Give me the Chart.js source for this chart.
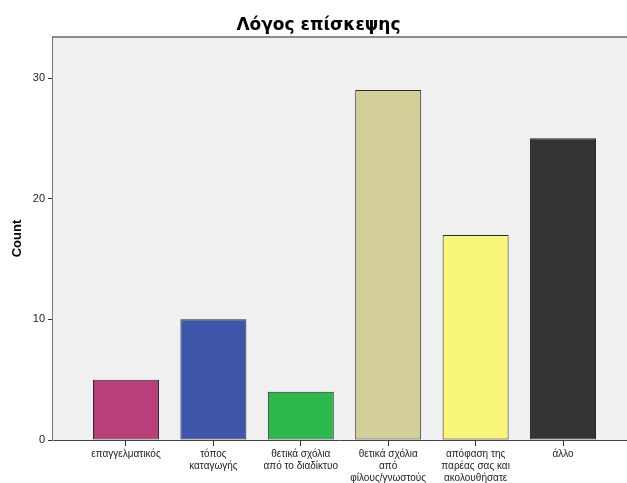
<!DOCTYPE html>
<html>
<head>
<meta charset="utf-8">
<script src="https://cdn.jsdelivr.net/npm/chart.js@4/dist/chart.umd.min.js"></script>
<style>
  html, body { margin: 0; padding: 0; background: #ffffff; }
  #wrap { width: 627px; height: 483px; }
</style>
</head>
<body>
<div id="wrap"><canvas id="c" width="627" height="483"></canvas></div>
<script>
// Visit reasons (categories), multi-line tick labels
const categories = [
  ['επαγγελματικός'],
  ['τόπος', 'καταγωγής'],
  ['θετικά σχόλια', 'από το διαδίκτυο'],
  ['θετικά σχόλια', 'από', 'φίλους/γνωστούς'],
  ['απόφαση της', 'παρέας σας και', 'ακολουθήσατε'],
  ['άλλο']
];
const counts = [5, 10, 4, 29, 17, 25];
const barColors = ['#b93f7b', '#3d56a9', '#2db84b', '#d3cf98', '#faf67a', '#333333'];
const yTicks = [0, 10, 20, 30];
const chartTitle = 'Λόγος επίσκεψης';
const yTitle = 'Count';

const FONT = '"Liberation Sans", Arial, sans-serif';

// Plot background and top frame line
const plotFrame = {
  id: 'plotFrame',
  beforeDatasetsDraw(chart) {
    const { ctx, chartArea: a } = chart;
    ctx.save();
    ctx.fillStyle = '#f0f0f0';
    ctx.fillRect(a.left, a.top, a.right - a.left, a.bottom - a.top);
    ctx.strokeStyle = '#8c8c8c';
    ctx.lineWidth = 2;
    ctx.beginPath();
    ctx.moveTo(a.left, a.top);
    ctx.lineTo(a.right, a.top);
    ctx.stroke();
    ctx.restore();
  }
};

// Chart title
const plotTitle = {
  id: 'plotTitle',
  afterDraw(chart) {
    const { ctx } = chart;
    ctx.save();
    ctx.font = 'bold 17px "DejaVu Sans", sans-serif';
    ctx.fillStyle = '#000';
    ctx.textAlign = 'center';
    ctx.textBaseline = 'alphabetic';
    ctx.fillText(chartTitle, chart.width / 2 + 5, 30);
    ctx.restore();
  }
};

new Chart(document.getElementById('c'), {
  type: 'bar',
  data: {
    datasets: [{
      data: counts.map((v, i) => ({ x: i, y: v })),
      backgroundColor: barColors,
      borderColor: '#2a2a2a',
      borderWidth: 1,
      borderSkipped: false,
      categoryPercentage: 1,
      barPercentage: 0.755
    }]
  },
  options: {
    responsive: false,
    animation: false,
    layout: { padding: { top: 37, right: 0, left: 0, bottom: 0 } },
    plugins: { legend: { display: false }, tooltip: { enabled: false }, title: { display: false } },
    scales: {
      x: {
        type: 'linear',
        offset: false,
        min: -0.835,
        max: 5.732,
        afterBuildTicks: axis => { axis.ticks = categories.map((c, i) => ({ value: i })); },
        afterFit: axis => { axis.height = 43; },
        grid: { offset: false, drawOnChartArea: false, drawTicks: true, tickLength: 6, color: '#333', lineWidth: 1 },
        border: { display: true, color: '#444', width: 1 },
        ticks: {
          autoSkip: false,
          maxRotation: 0,
          padding: 2,
          color: '#222',
          font: { family: FONT, size: 10, lineHeight: 1.2 },
          callback: v => categories[v]
        }
      },
      y: {
        min: 0,
        max: 33.4,
        afterBuildTicks: axis => { axis.ticks = yTicks.map(v => ({ value: v })); },
        afterFit: axis => { axis.width = 53; },
        grid: { drawOnChartArea: false, drawTicks: true, tickLength: 5, color: '#333', lineWidth: 1 },
        border: { display: true, color: '#7a7a7a', width: 2 },
        ticks: {
          padding: 3,
          color: '#222',
          font: { family: FONT, size: 11 }
        },
        title: {
          display: true,
          text: yTitle,
          color: '#000',
          font: { family: FONT, size: 13, weight: 'bold' },
          padding: { top: 10, bottom: 0 }
        }
      }
    }
  },
  plugins: [plotFrame, plotTitle]
});
</script>
</body>
</html>
